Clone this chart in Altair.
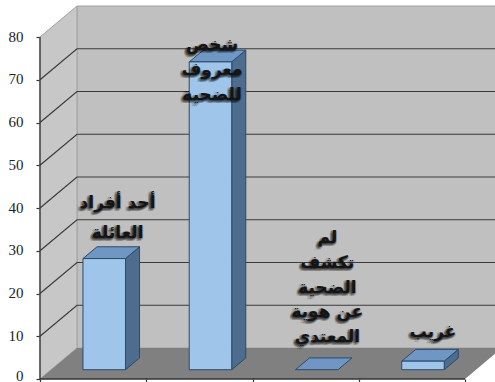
import altair as alt
import pandas as pd

# Chart content
categories = ["أحد أفراد العائلة", "شخص معروف للضحية", "لم تكشف الضحية عن هوية المعتدي", "غريب"]
values = [26, 72, 0, 2]
label_lines = [
    ["أحد أفراد", "العائلة"],
    ["شخص", "معروف", "للضحية"],
    ["لم", "تكشف", "الضحية", "عن هوية", "المعتدي"],
    ["غريب"],
]
y_ticks = [0, 10, 20, 30, 40, 50, 60, 70, 80]
x_ticks = [0, 1, 2, 3, 4]

# Oblique projection: depth z in [0, 1] shifts a point by z*DEPTH_X, z*DEPTH_Y
PX_PER_CAT = 106.25
PX_PER_UNIT = 4.275
DEPTH_X = 37 / PX_PER_CAT
DEPTH_Y = 31 / PX_PER_UNIT
BAR_WIDTH = 0.4
Z_FRONT = 0.3
Z_BACK = 0.68
Y_MAX = 80

PLOT_W, PLOT_H = 455, 374
x_scale = alt.Scale(domain=[0, PLOT_W / PX_PER_CAT], nice=False, zero=False)
y_scale = alt.Scale(domain=[0, PLOT_H / PX_PER_UNIT], nice=False, zero=False)


def X(field="x", **kw):
    return alt.X(f"{field}:Q", scale=x_scale, title=None, **kw)


def Y(field="y", **kw):
    return alt.Y(f"{field}:Q", scale=y_scale, title=None, **kw)


n = len(categories)
wall_color, side_wall_color, floor_color = "#c0c0c0", "#c7c7c7", "#808080"
edge_color = "#a2a2a2"

back_wall = alt.Chart(pd.DataFrame({
    "x": [DEPTH_X, n + DEPTH_X],
    "y": [DEPTH_Y, DEPTH_Y],
    "y2": [Y_MAX + DEPTH_Y, Y_MAX + DEPTH_Y],
})).mark_area(color=wall_color, stroke=edge_color, strokeWidth=1).encode(
    x=X(), y=Y(), y2="y2:Q")

side_wall = alt.Chart(pd.DataFrame({
    "x": [0, DEPTH_X],
    "y": [0, DEPTH_Y],
    "y2": [Y_MAX, Y_MAX + DEPTH_Y],
})).mark_area(color=side_wall_color, stroke=edge_color, strokeWidth=1).encode(
    x=X(), y=Y(), y2="y2:Q")

floor = alt.Chart(pd.DataFrame({
    "y": [0, DEPTH_Y],
    "x": [0, DEPTH_X],
    "x2": [n, n + DEPTH_X],
})).mark_area(color=floor_color, orient="horizontal").encode(
    x=X(), x2="x2:Q", y=Y())

grid_rows = []
for v in y_ticks:
    if 0 < v < Y_MAX:
        grid_rows += [
            {"level": v, "step": 0, "x": 0, "y": v},
            {"level": v, "step": 1, "x": DEPTH_X, "y": v + DEPTH_Y},
            {"level": v, "step": 2, "x": n + DEPTH_X, "y": v + DEPTH_Y},
        ]
grid = alt.Chart(pd.DataFrame(grid_rows)).mark_line(color="#3a3a3a", strokeWidth=1.2).encode(
    x=X(), y=Y(), detail="level:N", order="step:Q")

# Axes come from the scales; the lines stop at the last tick rather than the plot edge
axes = alt.Chart(pd.DataFrame({"x": [0], "y": [0]})).mark_point(opacity=0).encode(
    x=X(axis=alt.Axis(values=x_ticks, labels=False, domain=False, grid=False, ticks=True,
                      tickSize=4, tickColor="#333333", tickWidth=1.2)),
    y=Y(axis=alt.Axis(values=y_ticks, domain=False, grid=False, ticks=True, tickSize=4,
                      tickColor="#333333", tickWidth=1.2, labelFont="Liberation Serif",
                      labelFontSize=15, labelColor="#222222", labelPadding=13,
                      labelOffset=-1, labelFlush=True, labelFlushOffset=5,
                      labelOverlap=False)),
)
y_line = alt.Chart(pd.DataFrame({"x": [0], "y": [0], "y2": [Y_MAX]})).mark_rule(
    color="#333333", strokeWidth=1.3).encode(x=X(), y=Y(), y2="y2:Q")
x_line = alt.Chart(pd.DataFrame({"x": [0], "x2": [n], "y": [0]})).mark_rule(
    color="#333333", strokeWidth=1.3).encode(x=X(), x2="x2:Q", y=Y())

# Bar faces, projected from each value
front_rows, side_rows, top_rows = [], [], []
for i, (cat, val) in enumerate(zip(categories, values)):
    xl = i + 0.5 - BAR_WIDTH / 2
    xr = i + 0.5 + BAR_WIDTH / 2
    fx, fy = Z_FRONT * DEPTH_X, Z_FRONT * DEPTH_Y
    bx, by = Z_BACK * DEPTH_X, Z_BACK * DEPTH_Y
    if val > 0:
        front_rows += [{"cat": cat, "x": xl + fx, "y": fy, "y2": val + fy},
                       {"cat": cat, "x": xr + fx, "y": fy, "y2": val + fy}]
        side_rows += [{"cat": cat, "x": xr + fx, "y": fy, "y2": val + fy},
                      {"cat": cat, "x": xr + bx, "y": by, "y2": val + by}]
    top_rows += [{"cat": cat, "y": val + fy, "x": xl + fx, "x2": xr + fx},
                 {"cat": cat, "y": val + by, "x": xl + bx, "x2": xr + bx}]

bar_stroke = "#2b4a6b"
front = alt.Chart(pd.DataFrame(front_rows)).mark_area(
    color="#9fc6ea", stroke=bar_stroke, strokeWidth=1).encode(
    x=X(), y=Y(), y2="y2:Q", detail="cat:N")
side = alt.Chart(pd.DataFrame(side_rows)).mark_area(
    color="#4d6c8e", stroke=bar_stroke, strokeWidth=1).encode(
    x=X(), y=Y(), y2="y2:Q", detail="cat:N")
top = alt.Chart(pd.DataFrame(top_rows)).mark_area(
    color="#7097c4", stroke=bar_stroke, strokeWidth=1, orient="horizontal").encode(
    x=X(), x2="x2:Q", y=Y(), detail="cat:N")

# Stacked labels: offset from each bar's centre, first line height and line spacing in value units
label_shift = [0.23, 0.12, 0.205, 0.20]
label_first = [41.2, 78.2, 33.0, 11.0]
label_step = [7.0, 5.85, 5.8, 5.8]
text_rows = []
for i, lines in enumerate(label_lines):
    for j, line in enumerate(lines):
        text_rows.append({"x": i + 0.5 + label_shift[i],
                          "y": label_first[i] - j * label_step[i],
                          "t": line})
labels_df = pd.DataFrame(text_rows)


def label_layer(dx, dy, color, opacity):
    return alt.Chart(labels_df).mark_text(
        font="DejaVu Sans", fontSize=17, fontWeight="bold", color=color, opacity=opacity,
        dx=dx, dy=dy, align="center", baseline="middle").encode(x=X(), y=Y(), text="t:N")


shadow = [label_layer(dx, dy, "#000000", 0.16)
          for dx, dy in [(-2, 2), (-1, 3), (-3, 1), (-1, 1), (0, 2), (-2, 0), (1, 1), (-3, 3)]]
text_main = label_layer(0, 0, "#141414", 1)

chart = alt.layer(
    axes, back_wall, side_wall, floor, grid, y_line, x_line,
    side, top, front, *shadow, text_main,
).properties(
    width=PLOT_W,
    height=PLOT_H,
    background="white",
    padding={"left": 40, "top": 5, "right": 0, "bottom": 3},
    autosize=alt.AutoSizeParams(type="none"),
).configure_view(stroke=None)

chart.save("out.html", embed_options={"renderer": "svg", "actions": False})
